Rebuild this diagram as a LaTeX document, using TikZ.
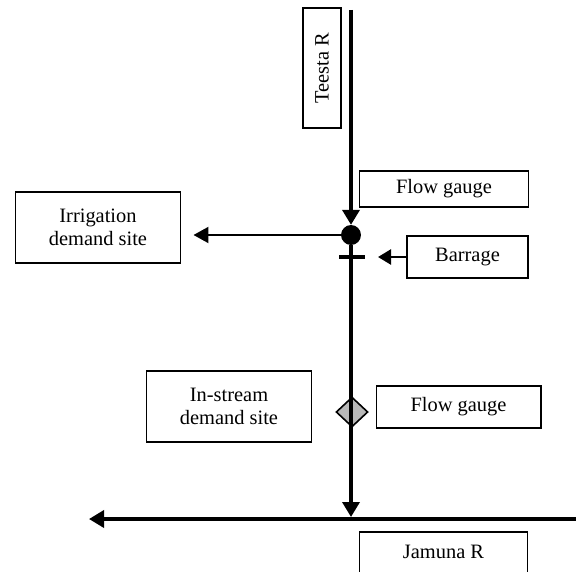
\documentclass[tikz,border=0pt]{standalone}
\usepackage{fontspec}
\setmainfont{Liberation Serif}
\usetikzlibrary{arrows.meta,shapes.geometric}
\begin{document}
\begin{tikzpicture}[x=1bp,y=-1bp,
 box/.style={draw,line width=1.6bp,inner sep=0pt,align=center,font=\fontsize{20.5}{23}\selectfont},
 bigtip/.style={-{Triangle[length=15bp,width=17bp]}},
 river/.style={line width=3.5bp},
]
\useasboundingbox (0,0) rectangle (576,572);
\clip (0,0) rectangle (576,572);
% boxes
\node[box,rotate=90,minimum width=120,minimum height=38] (teesta) at (322,68) {Teesta R};
\node[box,minimum width=170,minimum height=36] (fg1) at (444,189) {Flow gauge};
\node[box,minimum width=166,minimum height=71] (irr) at (98,227.5) {Irrigation\\demand site};
\node[box,minimum width=121,minimum height=42] (barbox) at (467.5,257) {Barrage};
\node[box,minimum width=166,minimum height=71] (instr) at (229,406.5) {In-stream\\demand site};
\node[box,minimum width=165,minimum height=42] (fg2) at (458.5,407) {Flow gauge};
\node[box,anchor=base,minimum width=169,text height=26.5bp,text depth=40bp] (jam) at (443.5,558.5) {Jamuna R};
% junction and gauge
\node[circle,fill,inner sep=0,minimum size=20] (junc) at (351,235) {};
\node[diamond,draw,fill=gray!55,line width=1.6bp,inner sep=0,minimum width=32,minimum height=30] (dia) at (352,412) {};
% coordinates
\coordinate (tstart) at (351,10);
\coordinate (jpt) at (351,517);
\coordinate (jr) at (576,519);
\coordinate (jl) at (89,519);
\coordinate (barr) at (351,257);
\coordinate (bartip) at (378,257);
% rivers
\draw[river,bigtip] (tstart) -- (junc.north);
\draw[river,bigtip] (junc.south) -- (jpt);
\draw[river,bigtip] (jr) -- (jl);
% barrage
\draw[line width=4bp] ([xshift=-12]barr) -- ([xshift=14]barr);
\draw[line width=2.5bp,-{Triangle[length=13bp,width=15bp]}] (barbox.west) -- (bartip);
% irrigation
\draw[line width=2bp,-{Triangle[length=15bp,width=16bp]},shorten >=12bp] (junc.west) -- (junc.west -| irr.east);
\end{tikzpicture}
\end{document}
